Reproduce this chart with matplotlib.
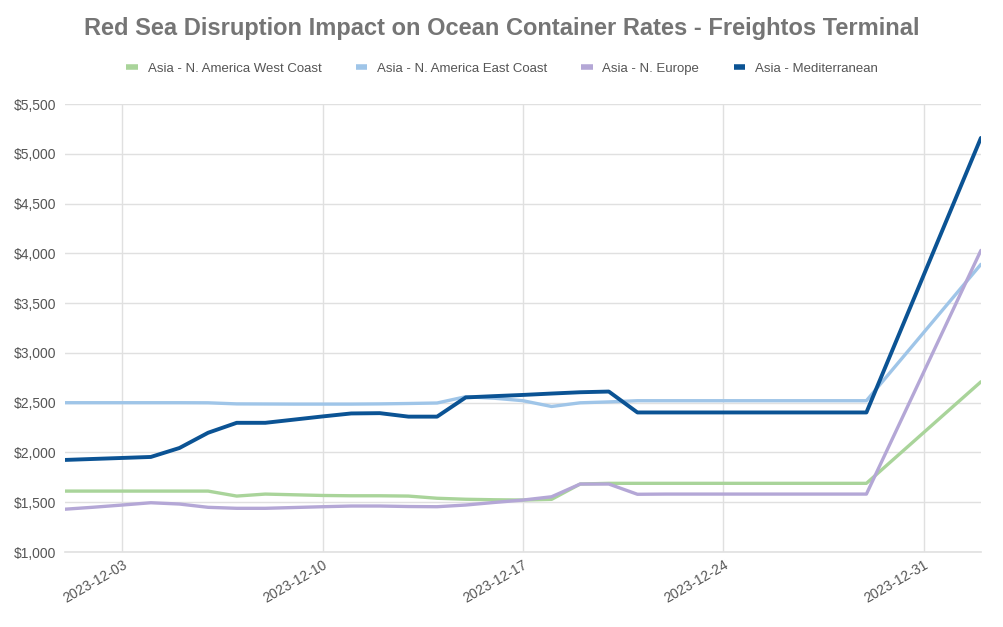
import numpy as np
import pandas as pd
import matplotlib.pyplot as plt
import matplotlib.dates as mdates
from matplotlib.ticker import FuncFormatter

# dates: daily 2023-12-01 .. 2023-12-29, then 2024-01-02
dates = list(pd.date_range("2023-12-01", "2023-12-29", freq="D")) + [pd.Timestamp("2024-01-02")]

west_coast = [1612, 1612, 1612, 1612, 1612, 1612, 1562, 1582, 1575, 1568, 1565, 1565, 1562, 1540,
              1530, 1525, 1522, 1529, 1683, 1690, 1690, 1690, 1690, 1690, 1690, 1690, 1690, 1690,
              1690, 2710]
east_coast = [2500, 2500, 2500, 2500, 2500, 2499, 2488, 2487, 2486, 2486, 2486, 2488, 2492, 2497,
              2560, 2545, 2520, 2462, 2499, 2508, 2520, 2520, 2520, 2520, 2520, 2520, 2520, 2520,
              2520, 3890]
n_europe = [1430, 1450, 1472, 1495, 1482, 1449, 1439, 1439, 1447, 1455, 1462, 1462, 1457, 1455,
            1472, 1498, 1522, 1555, 1683, 1683, 1580, 1582, 1582, 1582, 1582, 1582, 1582, 1582,
            1582, 4030]
mediterranean = [1925, 1935, 1945, 1955, 2045, 2198, 2298, 2298, 2330, 2362, 2392, 2395, 2360, 2360,
                 2553, 2566, 2578, 2592, 2605, 2612, 2402, 2402, 2402, 2402, 2402, 2402, 2402, 2402,
                 2402, 5160]

labels = ["Asia - N. America West Coast", "Asia - N. America East Coast",
          "Asia - N. Europe", "Asia - Mediterranean"]
colors = ["#a9d49a", "#9fc5e8", "#b4a7d6", "#0b5394"]
widths = [2.4, 2.4, 2.4, 2.8]
title = "Red Sea Disruption Impact on Ocean Container Rates - Freightos Terminal"

plt.rcParams["font.family"] = ["Liberation Sans", "DejaVu Sans"]

fig = plt.figure(figsize=(10.04, 6.27), dpi=100)
ax = fig.add_axes([0.0647, 0.1196, 0.9123, 0.7144])

for series, lab, col, w in zip([west_coast, east_coast, n_europe, mediterranean], labels, colors, widths):
    ax.plot(dates, series, color=col, lw=w, label=lab, solid_capstyle="round",
            solid_joinstyle="round")

ax.set_xlim(pd.Timestamp("2023-12-01"), pd.Timestamp("2024-01-02"))
ax.set_ylim(1000, 5500)
ax.set_yticks(np.arange(1000, 5501, 500))
ax.yaxis.set_major_formatter(FuncFormatter(lambda v, p: "${:,.0f}".format(v)))
ax.xaxis.set_major_locator(mdates.DayLocator(bymonthday=[3, 10, 17, 24, 31]))
ax.xaxis.set_major_formatter(mdates.DateFormatter("%Y-%m-%d"))

for s in ax.spines.values():
    s.set_visible(False)
ax.grid(True, color="#e0e0e0", lw=1)
ax.axhline(1000, color="#e0e0e0", lw=1.2, clip_on=False, zorder=0.5)
ax.set_axisbelow(True)
ax.tick_params(length=0, labelcolor="#555555", labelsize=10)
ax.tick_params(axis="y", pad=6)
ax.tick_params(axis="x", pad=4)
for t in ax.get_xticklabels():
    t.set_rotation(30)
    t.set_ha("right")
    t.set_rotation_mode("anchor")

fig.text(0.5, 0.955, title, ha="center", va="center", fontsize=17, fontweight="bold",
         color="#757575")
leg = fig.legend(loc="center", bbox_to_anchor=(0.5, 0.89), ncol=4, frameon=False,
                 fontsize=9.5, handlelength=0.9, handletextpad=0.7, columnspacing=2.6)
for t in leg.get_texts():
    t.set_color("#555555")
for h in leg.get_lines():
    h.set_linewidth(4)
    h.set_solid_capstyle("butt")

fig.savefig("out.png", dpi=100, facecolor="white")
